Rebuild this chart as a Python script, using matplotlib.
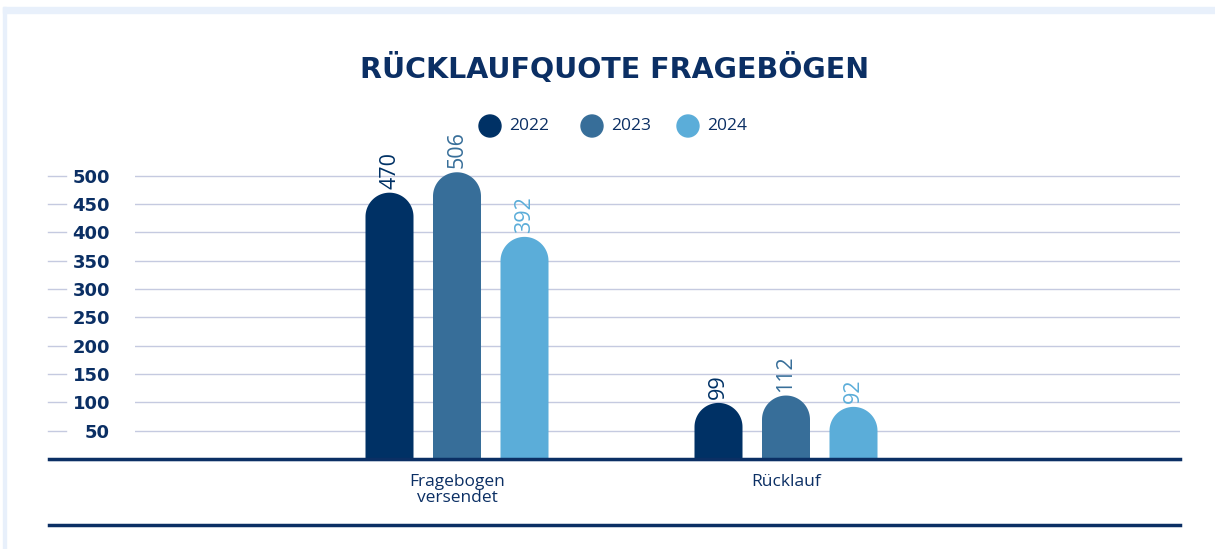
import matplotlib
matplotlib.use("Agg")
import matplotlib.pyplot as plt
from matplotlib.patches import Rectangle, Ellipse, Polygon
import numpy as np

categories = ["Fragebogen\nversendet", "Rücklauf"]
years = ["2022", "2023", "2024"]
values = {
    "2022": [470, 99],
    "2023": [506, 112],
    "2024": [392, 92],
}
colors = ["#003165", "#376e99", "#5badd9"]
yticks = [50, 100, 150, 200, 250, 300, 350, 400, 450, 500]
title = "RÜCKLAUFQUOTE FRAGEBÖGEN"
navy = "#0b2f64"

W, H, DPI = 1215, 549, 100
fig = plt.figure(figsize=(W / DPI, H / DPI), dpi=DPI)
fig.patch.set_facecolor("white")

# light frame
fig.patches.append(Rectangle((3 / W, 1 - 13 / H), 1, 6 / H, transform=fig.transFigure,
                             color="#e8f0fb", zorder=0))
fig.patches.append(Rectangle((3 / W, 0), 3 / W, 1 - 7 / H, transform=fig.transFigure,
                             color="#e8f0fb", zorder=0))

ax_l, ax_r = 135, 1180
y0_px = 459
ymax = 520
px_per_unit = (431 - 176) / 450.0
top_px = y0_px - ymax * px_per_unit
ax = fig.add_axes([ax_l / W, 1 - y0_px / H, (ax_r - ax_l) / W, (y0_px - top_px) / H])
ax.set_ylim(0, ymax)
xl = (-(457 - ax_l) / 329.0, (ax_r - 457) / 329.0)
ax.set_xlim(*xl)
for s in ax.spines.values():
    s.set_visible(False)
ax.set_xticks([])
ax.set_yticks(yticks)
ax.tick_params(axis="y", length=0, pad=18)
for lab in ax.get_yticklabels():
    lab.set_fontfamily("DejaVu Sans")
    lab.set_fontweight("bold")
    lab.set_fontsize(13)
    lab.set_color(navy)
for t in yticks:
    ax.axhline(t, color="#c5cae0", lw=1, zorder=0)
    ax.plot([-87 / 1045, -69 / 1045], [t, t], transform=ax.get_yaxis_transform(),
            color="#c5cae0", lw=1, clip_on=False)

# baseline and bottom line
ax.plot([-86 / 1045, 1.0], [0, 0], transform=ax.get_yaxis_transform(), color="#0b2f64",
        lw=2.5, clip_on=False, zorder=5)
ax.plot([-86 / 1045, 1.0], [-2.5, -2.5], transform=ax.get_yaxis_transform(), color="#a9bfdc",
        lw=1, clip_on=False, zorder=4)
fig.add_artist(plt.Line2D([49 / W, 1180 / W], [1 - 525 / H, 1 - 525 / H], color="#0b2f64", lw=2.5))

unit_px_x = 329.0
bar_w = 48 / unit_px_x
offsets = [-67.5 / unit_px_x, 0, 67.5 / unit_px_x]
r_y = 24 / px_per_unit
theta = np.linspace(0, np.pi, 60)
x = np.arange(len(categories))
for i, yr in enumerate(years):
    for j, v in enumerate(values[yr]):
        cx = x[j] + offsets[i]
        arc_x = cx + (bar_w / 2) * np.cos(theta)
        arc_y = (v - r_y) + r_y * np.sin(theta)
        px = np.concatenate([[cx + bar_w / 2], arc_x, [cx - bar_w / 2]])
        py = np.concatenate([[0], arc_y, [0]])
        ax.add_patch(Polygon(np.column_stack([px, py]), closed=True, facecolor=colors[i],
                             edgecolor="none", zorder=3))
        ax.text(cx, v + 7, str(v), rotation=90, ha="center", va="bottom", fontsize=15.5,
                color=colors[i], family="Open Sans")

for j, c in enumerate(categories):
    ax.text(x[j], -27, c, ha="center", va="top", fontsize=12.5, color=navy,
            family="Open Sans", linespacing=0.95)

fig.text(615 / W, 1 - 68 / H, title, ha="center", va="center", fontsize=20.5,
         fontweight="bold", family="DejaVu Sans", color=navy)

# legend
for i, yr in enumerate(years):
    cxp = [490, 592, 688][i]
    fig.add_artist(Ellipse((cxp / W, 1 - 126 / H), 22 / W, 22 / H, transform=fig.transFigure,
                           color=colors[i]))
    fig.text((cxp + 19) / W, 1 - 126 / H, yr, ha="left", va="center", fontsize=12.5,
             color=navy, family="Open Sans")

fig.savefig("out.png", dpi=DPI)
